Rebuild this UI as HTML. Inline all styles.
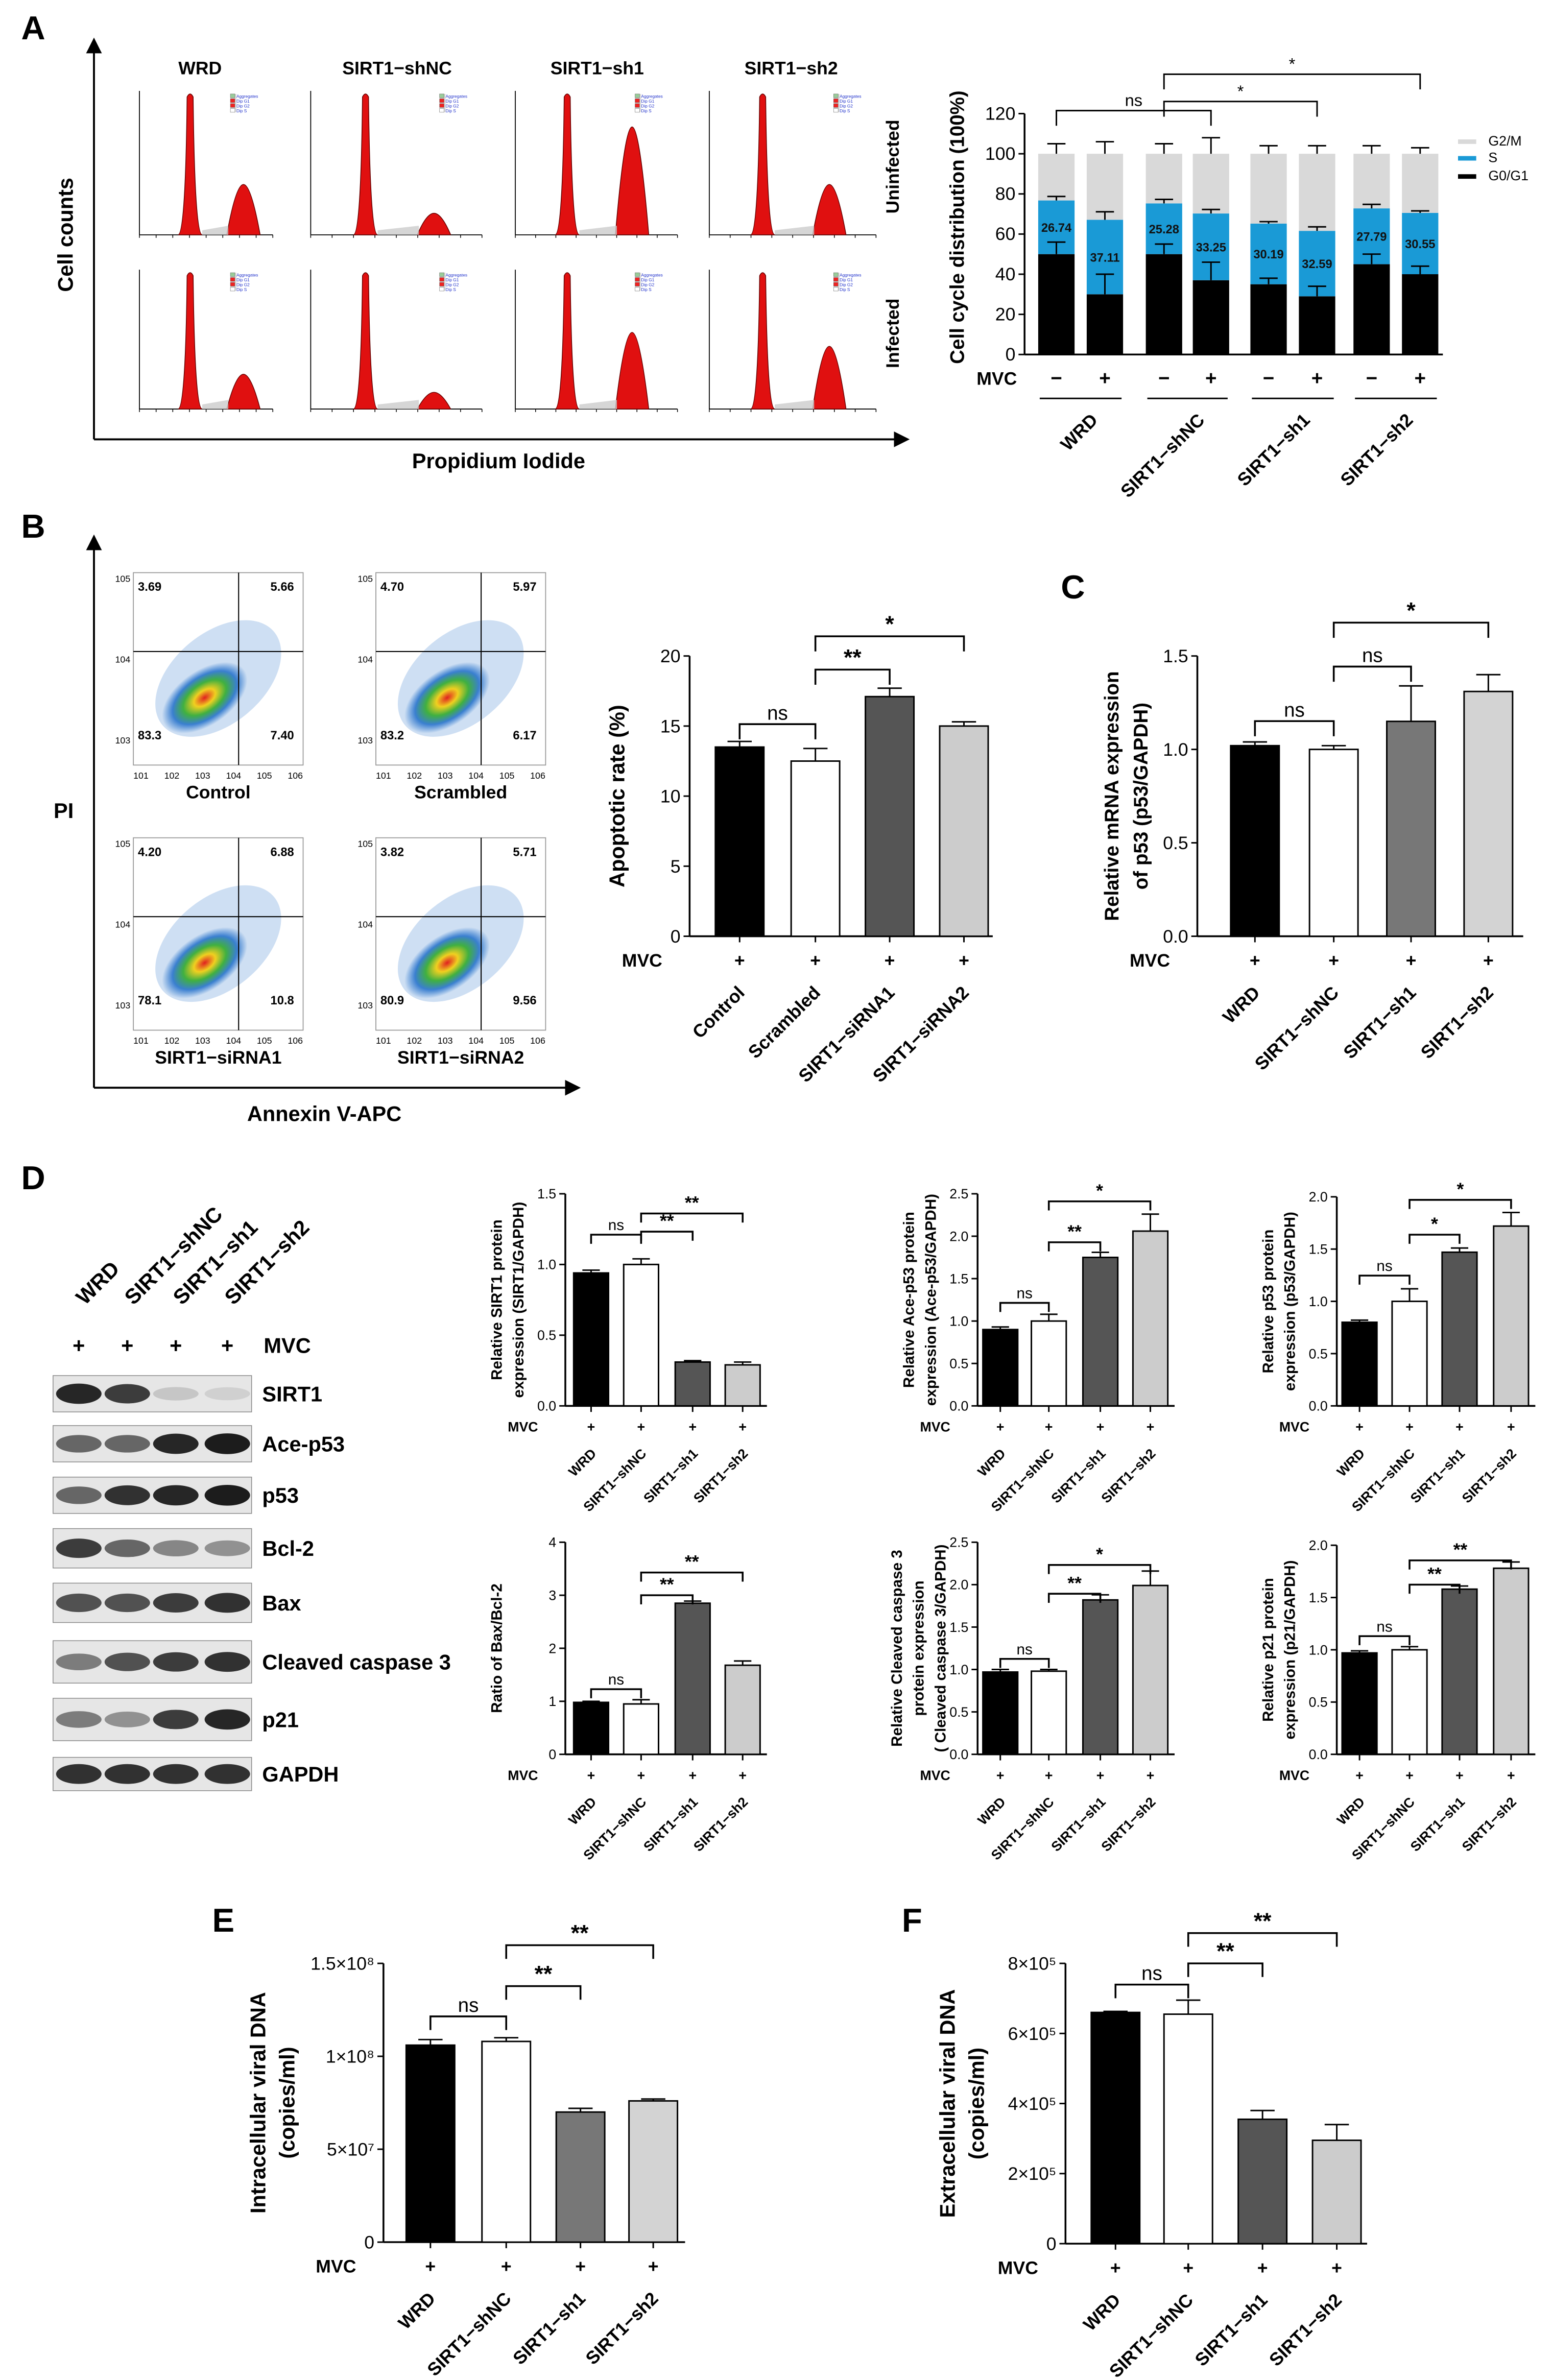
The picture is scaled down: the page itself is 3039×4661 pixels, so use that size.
<!DOCTYPE html>
<html><head><meta charset="utf-8"><style>
html,body{margin:0;padding:0;background:#fff}
svg{display:block;font-family:"Liberation Sans",Arial,sans-serif}
</style></head><body>
<svg id="fig" xmlns="http://www.w3.org/2000/svg" width="3039" height="4661" viewBox="0 0 1024 1571" preserveAspectRatio="none">
<defs>
<radialGradient id="flowg" cx="50%" cy="50%" r="50%">
<stop offset="0" stop-color="#e02020"/><stop offset="0.25" stop-color="#f0d020"/><stop offset="0.5" stop-color="#40b040"/><stop offset="0.75" stop-color="#3a7fd0"/><stop offset="1" stop-color="#3a7fd0" stop-opacity="0"/>
</radialGradient>
<marker id="arr" markerWidth="8" markerHeight="8" refX="4" refY="4" orient="auto"><path d="M0,0 L8,4 L0,8 z" fill="#000"/></marker>
</defs>
</svg>
<script>
// ---------- DATA ----------
const catsA=["WRD","SIRT1−shNC","SIRT1−sh1","SIRT1−sh2"];
const g0g1=[50,30,50,37,35,29,45,40];
const sPhase=[26.74,37.11,25.28,33.25,30.19,32.59,27.79,30.55];
const g0Err=[6,10,5,9,3,5,5,4];
const sErr=[2,4,2,2,1,2,2,1];
const g2Err=[5,6,5,8,4,4,4,3];
const ticksA=[0,20,40,60,80,100,120];

const catsB=["Control","Scrambled","SIRT1−siRNA1","SIRT1−siRNA2"];
const valsB=[13.5,12.5,17.1,15.0];
const errsB=[0.4,0.9,0.6,0.3];
const ticksB=[0,5,10,15,20];

const catsSh=["WRD","SIRT1−shNC","SIRT1−sh1","SIRT1−sh2"];
const valsC=[1.02,1.0,1.15,1.31];
const errsC=[0.02,0.02,0.19,0.09];
const ticksC=[0,0.5,1.0,1.5];

const valsD1=[0.94,1.0,0.31,0.29]; const errsD1=[0.02,0.04,0.01,0.02]; const ticksD1=[0,0.5,1.0,1.5];
const valsD2=[0.9,1.0,1.75,2.06]; const errsD2=[0.03,0.08,0.06,0.2]; const ticksD2=[0,0.5,1.0,1.5,2.0,2.5];
const valsD3=[0.8,1.0,1.47,1.72]; const errsD3=[0.02,0.12,0.04,0.13]; const ticksD3=[0,0.5,1.0,1.5,2.0];
const valsD4=[0.98,0.95,2.85,1.68]; const errsD4=[0.02,0.08,0.04,0.08]; const ticksD4=[0,1,2,3,4];
const valsD5=[0.97,0.98,1.82,1.99]; const errsD5=[0.03,0.02,0.06,0.17]; const ticksD5=[0,0.5,1.0,1.5,2.0,2.5];
const valsD6=[0.97,1.0,1.58,1.78]; const errsD6=[0.02,0.03,0.03,0.06]; const ticksD6=[0,0.5,1.0,1.5,2.0];

const valsE=[1.06e8,1.08e8,0.70e8,0.76e8]; const errsE=[0.03e8,0.02e8,0.02e8,0.01e8];
const ticksE=[0,5e7,1e8,1.5e8]; const tickLblE=["0","5×10⁷","1×10⁸","1.5×10⁸"];
const valsF=[6.6e5,6.55e5,3.55e5,2.95e5]; const errsF=[0.03e5,0.4e5,0.25e5,0.45e5];
const ticksF=[0,2e5,4e5,6e5,8e5]; const tickLblF=["0","2×10⁵","4×10⁵","6×10⁵","8×10⁵"];

const flowQ=[["3.69","5.66","83.3","7.40","Control"],["4.70","5.97","83.2","6.17","Scrambled"],["4.20","6.88","78.1","10.8","SIRT1−siRNA1"],["3.82","5.71","80.9","9.56","SIRT1−siRNA2"]];
const blotRows=["SIRT1","Ace-p53","p53","Bcl-2","Bax","Cleaved caspase 3","p21","GAPDH"];
const blotInt=[[0.9,0.8,0.15,0.1],[0.6,0.6,0.9,0.95],[0.6,0.85,0.9,0.95],[0.8,0.6,0.45,0.4],[0.7,0.7,0.8,0.85],[0.5,0.7,0.8,0.85],[0.5,0.4,0.8,0.9],[0.85,0.85,0.85,0.85]];

// ---------- HELPERS ----------
const svg=document.getElementById('fig');
const NS="http://www.w3.org/2000/svg";
function el(tag,attrs,parent){const e=document.createElementNS(NS,tag);for(const k in attrs)e.setAttribute(k,attrs[k]);(parent||svg).appendChild(e);return e;}
function txt(x,y,s,size,opt){opt=opt||{};const t=el('text',{x:x,y:y,'font-size':size,'font-weight':opt.w||'bold','text-anchor':opt.a||'middle',fill:opt.fill||'#000'},opt.p);if(opt.rot!==undefined)t.setAttribute('transform','rotate('+opt.rot+' '+x+' '+y+')');t.textContent=s;return t;}
function line(x1,y1,x2,y2,sw,p){return el('line',{x1:x1,y1:y1,x2:x2,y2:y2,stroke:'#000','stroke-width':sw||1},p);}

function barChart(c){
  const g=el('g',{});
  
  
  const ys=v=>c.yBot-(v/c.max)*(c.yBot-c.yTop);
  line(c.x0,c.yTop,c.x0,c.yBot,1.2,g);
  line(c.x0,c.yBot,c.xEnd,c.yBot,1.2,g);
  c.ticks.forEach((t,i)=>{const y=ys(t);line(c.x0-4,y,c.x0,y,1,g);
    const lb=txt(c.x0-6,y+c.fs*0.35,c.tickLbl?c.tickLbl[i]:String(t),c.fs,{a:'end',p:g,w:c.tw||'bold'});
    });
  c.vals.forEach((v,i)=>{const x=c.xs[i];
    const r=el('rect',{x:x-c.w/2,y:ys(v),width:c.w,height:c.yBot-ys(v),fill:c.colors[i],stroke:'#000','stroke-width':1},g);
    
    
    const ye=ys(v+c.errs[i]);line(x,ys(v),x,ye,1,g);line(x-c.w*0.25,ye,x+c.w*0.25,ye,1,g);
    line(x,c.yBot+4,x,c.yBot,1,g);
    txt(x,c.yBot+c.fs+8,'+',c.fs,{p:g});
    const cl=txt(x+4,c.yBot+c.fs*2+14,c.cats[i],c.fs,{a:'end',rot:-45,p:g});
    
  });
  txt(c.x0-18,c.yBot+c.fs+8,'MVC',c.fs,{a:'end',p:g});
  c.ylab.forEach((s,k)=>{const X=c.ylx+k*(c.fs*1.6);const t=txt(X,(c.yTop+c.yBot)/2,s,c.yfs||c.fs,{rot:-90,p:g});
    });
  (c.br||[]).forEach(b=>{const x1=c.xs[b[0]],x2=c.xs[b[1]],y=b[3],h=c.bh||8;
    el('polyline',{points:x1+','+(y+h)+' '+x1+','+y+' '+x2+','+y+' '+x2+','+(y+h),fill:'none',stroke:'#000','stroke-width':1.2},g);
    txt((x1+x2)/2,y-3,b[2],b[2]==='ns'?c.fs+1:c.fs+3,{p:g,w:b[2]==='ns'?'normal':'bold'});});
  return g;
}
function shadeStack(x,w,yTop,yBot,col){ // inner lighter sections for gray bars
}

// ---------- PANEL LETTERS ----------
[["A",14,26],["B",14,355],["C",700,395],["D",14,785],["E",140,1275],["F",595,1275]].forEach(p=>{const t=txt(p[1],p[2],p[0],22,{a:'start'});});

// ---------- PANEL A: histograms ----------
line(62,290,62,30,1.3);svg.lastChild.setAttribute('marker-end','url(#arr)');
line(62,290,595,290,1.3);svg.lastChild.setAttribute('marker-end','url(#arr)');
txt(48,155,'Cell counts',14,{rot:-90});
txt(329,309,'Propidium Iodide',14);
catsA.forEach((c,i)=>{const t=txt([132,262,394,522][i],49,c,12);});
txt(593,110,'Uninfected',12,{rot:-90});txt(593,220,'Infected',12,{rot:-90});
const hx=[[92,180],[205,318],[340,447],[468,578]];
const peak2=[[0.35,0.25],[0.15,0.12],[0.75,0.55],[0.35,0.45]];
[0,1].forEach(r=>{hx.forEach((h,i)=>{
  const x0=h[0],x1=h[1],yb=r?270:155,yt=r?178:60,W=x1-x0;
  const g=el('g',{});
  
  
  line(x0,yt,x0,yb,0.6,g);line(x0,yb,x1,yb,0.6,g);
  for(let k=0;k<=8;k++){line(x0+k*W/8,yb,x0+k*W/8,yb+2,0.5,g);}
  const p1=x0+W*(i===0?0.38:0.32),p2=x0+W*(i===0?0.78:0.72),H=yb-yt,h2=H*peak2[i][r];
  el('path',{d:`M${p1-8},${yb} Q${p1-3},${yb} ${p1-2},${yt+4} Q${p1},${yt} ${p1+2},${yt+4} Q${p1+3},${yb} ${p1+8},${yb} Z`,fill:'#e01010',stroke:'#600','stroke-width':0.5},g);
  el('path',{d:`M${p2-11},${yb} Q${p2-5},${yb-h2} ${p2},${yb-h2} Q${p2+5},${yb-h2} ${p2+11},${yb} Z`,fill:'#e01010',stroke:'#600','stroke-width':0.5},g);
  el('path',{d:`M${p1+8},${yb-3} L${p2-10},${yb-6} L${p2-10},${yb} L${p1+8},${yb} Z`,fill:'#ccc',opacity:0.8},g);
  el('rect',{x:x1-28,y:yt+2,width:4,height:12,fill:'#ddd'},g);
  ['Aggregates','Dip G1','Dip G2','Dip S'].forEach((s,k)=>{el('rect',{x:x1-28,y:yt+2+k*3.2,width:3,height:2.5,fill:['#9c9','#e22','#e22','#fff'][k],stroke:'#666','stroke-width':0.2},g);txt(x1-24,yt+4.5+k*3.2,s,2.8,{a:'start',p:g,w:'normal',fill:'#23c'});});
});});

// ---------- PANEL A: stacked bars ----------
(function(){
  const x0=676,yT=75,yB=234,max=120,xs=[697,729,768,799,837,869,905,937],w=24;
  const ys=v=>yB-(v/max)*(yB-yT);
  const g=el('g',{});
  
  
  line(x0,yT,x0,yB,1.2,g);line(x0,yB,952,yB,1.2,g);
  ticksA.forEach(t=>{line(x0-4,ys(t),x0,ys(t),1,g);txt(x0-6,ys(t)+4,String(t),12,{a:'end',p:g,w:'normal'});});
  xs.forEach((x,i)=>{
    const a=g0g1[i],b=sPhase[i];
    const r1=el('rect',{x:x-w/2,y:ys(a),width:w,height:yB-ys(a),fill:'#000'},g);
    
    const r2=el('rect',{x:x-w/2,y:ys(a+b),width:w,height:ys(a)-ys(a+b),fill:'#1a9ad6'},g);
    
    const r3=el('rect',{x:x-w/2,y:ys(100),width:w,height:ys(a+b)-ys(100),fill:'#d9d9d9'},g);
    
    [[a,g0Err[i],'#000'],[a+b,sErr[i],'#000'],[100,g2Err[i],'#000']].forEach(e=>{const y0=ys(e[0]),y1=ys(e[0]+e[1]);line(x,y0,x,y1,1,g);line(x-6,y1,x+6,y1,1,g);});
    txt(x,ys(a+b/2)+3,b.toFixed(2),8,{p:g,fill:'#111'});
    txt(x,254,i%2?'+':'−',13,{p:g});
  });
  txt(671,254,'MVC',12,{a:'end',p:g});
  txt(636,150,'Cell cycle distribution (100%)',13,{rot:-90,p:g});
  [[0,3,'ns',73],[2,5,'*',67],[2,7,'*',49]].forEach(b=>{const x1=xs[b[0]],x2=xs[b[1]],y=b[3];
    el('polyline',{points:x1+','+(y+10)+' '+x1+','+y+' '+x2+','+y+' '+x2+','+(y+10),fill:'none',stroke:'#000','stroke-width':1},g);
    txt((x1+x2)/2,y-3,b[2],b[2]==='ns'?11:11,{p:g,w:'normal'});});
  // legend
  [['G2/M','#d9d9d9',96],['S','#1a9ad6',107],['G0/G1','#000',119]].forEach(l=>{
    const lg=el('g',{},g);
    el('rect',{x:962,y:l[2]-4,width:12,height:3,fill:l[1]},lg);txt(982,l[2],l[0],9,{a:'start',p:lg,w:'normal'});});
  // group lines & labels
  [[686,740],[757,810],[826,880],[894,948]].forEach((p,i)=>{line(p[0],263,p[1],263,1,g);
    txt((p[0]+p[1])/2+12,278,catsA[i],12,{a:'end',rot:-45,p:g});});
})();

// ---------- PANEL B: flow ----------
line(62,718,62,358,1.3);svg.lastChild.setAttribute('marker-end','url(#arr)');
line(62,718,378,718,1.3);svg.lastChild.setAttribute('marker-end','url(#arr)');
txt(42,540,'PI',14);txt(214,740,'Annexin V-APC',14);
[[88,378],[248,378],[88,553],[248,553]].forEach((p,i)=>{
  const [x,y]=p,W=112,H=127,q=flowQ[i];
  const g=el('g',{});
  
  
  el('rect',{x:x,y:y,width:W,height:H,fill:'#fff',stroke:'#999','stroke-width':0.6},g);
  el('ellipse',{cx:x+W*0.5,cy:y+H*0.55,rx:48,ry:30,fill:'#3a7fd0',opacity:0.25,transform:`rotate(-40 ${x+W*0.5} ${y+H*0.55})`},g);
  el('ellipse',{cx:x+W*0.42,cy:y+H*0.65,rx:32,ry:18,fill:'url(#flowg)',transform:`rotate(-35 ${x+W*0.42} ${y+H*0.65})`},g);
  line(x+W*0.62,y,x+W*0.62,y+H,0.7,g);line(x,y+H*0.41,x+W,y+H*0.41,0.7,g);
  txt(x+3,y+12,q[0],8,{a:'start',p:g});txt(x+W-6,y+12,q[1],8,{a:'end',p:g});
  txt(x+3,y+H-17,q[2],8,{a:'start',p:g});txt(x+W-6,y+H-17,q[3],8,{a:'end',p:g});
  for(let k=0;k<6;k++){txt(x+5+k*W/5.5,y+H+9,'10'+(k+1),6,{p:g,w:'normal'});}
  [5,4,3].forEach((e,k)=>txt(x-7,y+6+k*H*0.42,'10'+e,6,{p:g,w:'normal'}));
  txt(x+W/2,y+H+22,q[4],12,{p:g});
});

// ---------- PANEL B bar ----------
barChart({name:'apoptotic-rate-chart',x0:455,xEnd:655,yTop:433,yBot:618,max:20,ticks:ticksB,fs:12,tw:'normal',
  xs:[488,538,587,636],w:32,vals:valsB,errs:errsB,colors:['#000','#fff','#555','#ccc'],cats:catsB,
  ylab:['Apoptotic rate (%)'],ylx:412,yfs:14,bh:10,br:[[0,1,'ns',478],[1,2,'**',442],[1,3,'*',420]]});
// ---------- PANEL C ----------
barChart({name:'p53-mrna-chart',x0:790,xEnd:1005,yTop:433,yBot:618,max:1.5,ticks:ticksC,tickLbl:['0.0','0.5','1.0','1.5'],fs:12,tw:'normal',
  xs:[828,880,931,982],w:32,vals:valsC,errs:errsC,colors:['#000','#fff','#777','#d3d3d3'],cats:catsSh,
  ylab:['Relative mRNA expression','of p53 (p53/GAPDH)'],ylx:738,yfs:13,bh:10,br:[[0,1,'ns',476],[1,2,'ns',440],[1,3,'*',411]]});

// ---------- PANEL D blot ----------
(function(){
  const g=el('g',{});
  
  
  const lx=[52,84,116,150];
  ['WRD','SIRT1−shNC','SIRT1−sh1','SIRT1−sh2'].forEach((s,i)=>txt(lx[i]+4,862,s,14,{a:'start',rot:-45,p:g}));
  lx.forEach(x=>txt(x,893,'+',14,{p:g}));txt(174,893,'MVC',14,{a:'start',p:g});
  const ry=[920,953,987,1022,1058,1097,1135,1171],rh=[24,24,24,26,26,28,28,22];
  blotRows.forEach((n,r)=>{
    el('rect',{x:35,y:ry[r]-rh[r]/2,width:131,height:rh[r],fill:'#e6e6e6',stroke:'#888','stroke-width':0.5},g);
    lx.forEach((x,i)=>{const v=blotInt[r][i];el('ellipse',{cx:x,cy:ry[r],rx:15,ry:4+v*3,fill:'#111',opacity:v},g);});
    txt(173,ry[r]+5,n,14,{a:'start',p:g});
  });
})();
const dcols=['#000','#fff','#555','#ccc'];
const Dcfg=[
 ['sirt1-protein-chart',373,788,928,1.5,ticksD1,['0.0','0.5','1.0','1.5'],[390,423,457,490],valsD1,errsD1,['Relative SIRT1 protein','expression (SIRT1/GAPDH)'],[[0,1,'ns',815],[1,2,'**',813],[1,3,'**',801]]],
 ['ace-p53-chart',645,788,928,2.5,ticksD2,['0.0','0.5','1.0','1.5','2.0','2.5'],[660,692,726,759],valsD2,errsD2,['Relative Ace-p53 protein','expression (Ace-p53/GAPDH)'],[[0,1,'ns',860],[1,2,'**',820],[1,3,'*',793]]],
 ['p53-protein-chart',882,790,928,2.0,ticksD3,['0.0','0.5','1.0','1.5','2.0'],[897,930,963,997],valsD3,errsD3,['Relative p53 protein','expression (p53/GAPDH)'],[[0,1,'ns',842],[1,2,'*',815],[1,3,'*',792]]],
 ['bax-bcl2-chart',373,1018,1158,4,ticksD4,['0','1','2','3','4'],[390,423,457,490],valsD4,errsD4,['Ratio of Bax/Bcl-2'],[[0,1,'ns',1115],[1,2,'**',1053],[1,3,'**',1038]]],
 ['cleaved-caspase3-chart',645,1018,1158,2.5,ticksD5,['0.0','0.5','1.0','1.5','2.0','2.5'],[660,692,726,759],valsD5,errsD5,['Relative Cleaved caspase 3','protein expression','( Cleaved caspase 3/GAPDH)'],[[0,1,'ns',1095],[1,2,'**',1052],[1,3,'*',1033]]],
 ['p21-protein-chart',882,1020,1158,2.0,ticksD6,['0.0','0.5','1.0','1.5','2.0'],[897,930,963,997],valsD6,errsD6,['Relative p21 protein','expression (p21/GAPDH)'],[[0,1,'ns',1080],[1,2,'**',1046],[1,3,'**',1030]]]
];
Dcfg.forEach(d=>barChart({name:d[0],x0:d[1],xEnd:d[7][3]+16,yTop:d[2],yBot:d[3],max:d[4],ticks:d[5],tickLbl:d[6],fs:9,tw:'normal',
  xs:d[7],w:23,vals:d[8],errs:d[9],colors:dcols,cats:catsSh,ylab:d[10],ylx:d[1]-(d[10].length===3?50:42),yfs:10,bh:6,br:d[11]}));

// ---------- PANEL E / F ----------
barChart({name:'intracellular-dna-chart',x0:253,xEnd:452,yTop:1296,yBot:1480,max:1.5e8,ticks:ticksE,tickLbl:tickLblE,fs:12,tw:'normal',
  xs:[284,334,383,431],w:32,vals:valsE,errs:errsE,colors:['#000','#fff','#777','#d3d3d3'],cats:catsSh,
  ylab:['Intracellular viral DNA','(copies/ml)'],ylx:175,yfs:14,bh:9,br:[[0,1,'ns',1331],[1,2,'**',1311],[1,3,'**',1284]]});
barChart({name:'extracellular-dna-chart',x0:703,xEnd:902,yTop:1296,yBot:1481,max:8e5,ticks:ticksF,tickLbl:tickLblF,fs:12,tw:'normal',
  xs:[736,784,833,882],w:32,vals:valsF,errs:errsF,colors:['#000','#fff','#555','#ccc'],cats:catsSh,
  ylab:['Extracellular viral DNA','(copies/ml)'],ylx:630,yfs:14,bh:9,br:[[0,1,'ns',1310],[1,2,'**',1296],[1,3,'**',1276]]});
</script>
</body></html>
